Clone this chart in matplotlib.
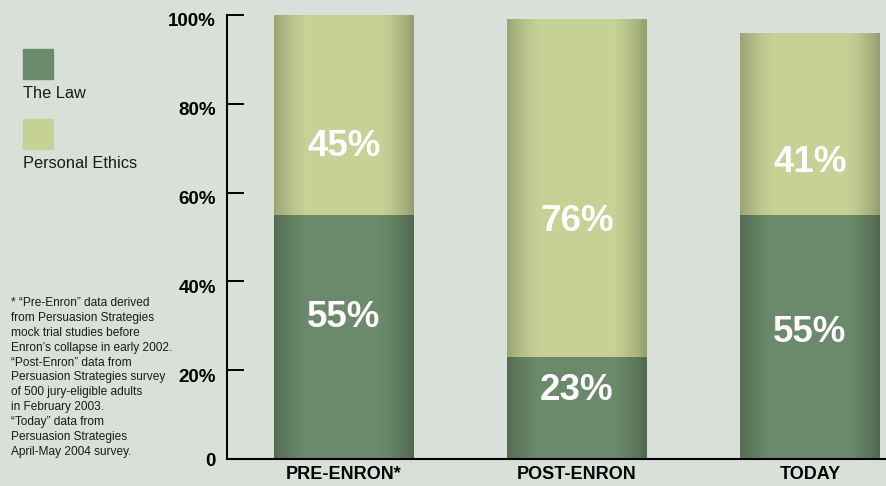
import numpy as np
import matplotlib
matplotlib.use("Agg")
import matplotlib.pyplot as plt
import matplotlib.transforms as mtransforms
from matplotlib import font_manager

categories = ["PRE-ENRON*", "POST-ENRON", "TODAY"]
law = [55, 23, 55]
ethics = [45, 76, 41]
law_labels = ["55%", "23%", "55%"]
ethics_labels = ["45%", "76%", "41%"]
yticks = [0, 20, 40, 60, 80, 100]
ytick_labels = ["0", "20%", "40%", "60%", "80%", "100%"]
series_names = ["The Law", "Personal Ethics"]
footnote = ("* \u201cPre-Enron\u201d data derived\n"
            "from Persuasion Strategies\n"
            "mock trial studies before\n"
            "Enron\u2019s collapse in early 2002.\n"
            "\u201cPost-Enron\u201d data from\n"
            "Persuasion Strategies survey\n"
            "of 500 jury-eligible adults\n"
            "in February 2003.\n"
            "\u201cToday\u201d data from\n"
            "Persuasion Strategies\n"
            "April-May 2004 survey.")

# label placement (fraction within segment) -- styling only
law_frac = [0.58, 0.67, 0.52]
eth_frac = [0.34, 0.40, 0.29]

names = {f.name for f in font_manager.fontManager.ttflist}
narrow = "Liberation Sans Narrow" if "Liberation Sans Narrow" in names else "Liberation Sans"
plain = "Liberation Sans"

BG = "#d9e0d9"
C_LAW = "#6b8a6b"
C_ETH = "#c6d195"

fig = plt.figure(figsize=(8.87, 4.86), dpi=100, facecolor=BG)
ax = fig.add_axes([227/887, 27/486, 1 - 227/887, (459-15)/486])
ax.set_facecolor(BG)

x = np.arange(len(categories))
w = 0.6
b1 = ax.bar(x, law, w, color=C_LAW, zorder=2)
b2 = ax.bar(x, ethics, w, bottom=law, color=C_ETH, zorder=2)

# shading gradient across bar widths
n = 200
t = np.linspace(0, 1, n)
alpha = np.zeros(n)
alpha = np.where(t < 0.25, 0.22 * (1 - t / 0.25) ** 1.5, alpha)
alpha = np.where(t > 0.75, 0.25 * ((t - 0.75) / 0.25) ** 1.5, alpha)
grad = np.zeros((1, n, 4))
grad[..., 3] = alpha
for p in list(b1) + list(b2):
    x0, y0 = p.get_x(), p.get_y()
    im = ax.imshow(grad, extent=[x0, x0 + p.get_width(), y0, y0 + p.get_height()],
                   aspect="auto", zorder=3, interpolation="bilinear")
    im.set_clip_path(p)

for i in range(len(categories)):
    ax.text(x[i], law[i] * law_frac[i], law_labels[i], ha="center", va="center",
            color="white", fontsize=26.5, fontweight="bold", family=plain, zorder=4)
    ax.text(x[i], law[i] + ethics[i] * eth_frac[i], ethics_labels[i], ha="center", va="center",
            color="white", fontsize=26.5, fontweight="bold", family=plain, zorder=4)

ax.set_xlim(-0.502, 2.33)
ax.set_ylim(0, 100)
ax.set_yticks(yticks)
ax.set_yticklabels(ytick_labels, fontsize=13.5, fontweight="bold", family=narrow)
ax.set_xticks(x)
ax.set_xticklabels(categories, fontsize=13, fontweight="bold", family=narrow)
ax.tick_params(axis="y", direction="in", length=12.5, width=1.4, pad=8, color="black")
ax.tick_params(axis="x", length=0, pad=5)
shift = mtransforms.ScaledTranslation(0, -5/100, fig.dpi_scale_trans)
for lab in ax.get_yticklabels()[1:]:
    lab.set_transform(lab.get_transform() + shift)
for s in ["top", "right"]:
    ax.spines[s].set_visible(False)
ax.spines["left"].set_linewidth(1.5)
ax.spines["bottom"].set_linewidth(1.5)

# legend
fig.patches.append(plt.Rectangle((23/887, 1 - 79/486), 30/887, 30/486, transform=fig.transFigure,
                                 color=C_LAW, figure=fig))
fig.patches.append(plt.Rectangle((23/887, 1 - 149/486), 30/887, 30/486, transform=fig.transFigure,
                                 color=C_ETH, figure=fig))
fig.text(23/887, 1 - 93/486, series_names[0], fontsize=11.8, family=plain, va="center", color="#1a1a1a")
fig.text(23/887, 1 - 163/486, series_names[1], fontsize=11.8, family=plain, va="center", color="#1a1a1a")

fig.text(11/887, 1 - 297/486, footnote, fontsize=8.6, family=narrow, va="top", ha="left",
         color="#1a1a1a", linespacing=1.32)

fig.savefig("out.png", dpi=100, facecolor=BG)
